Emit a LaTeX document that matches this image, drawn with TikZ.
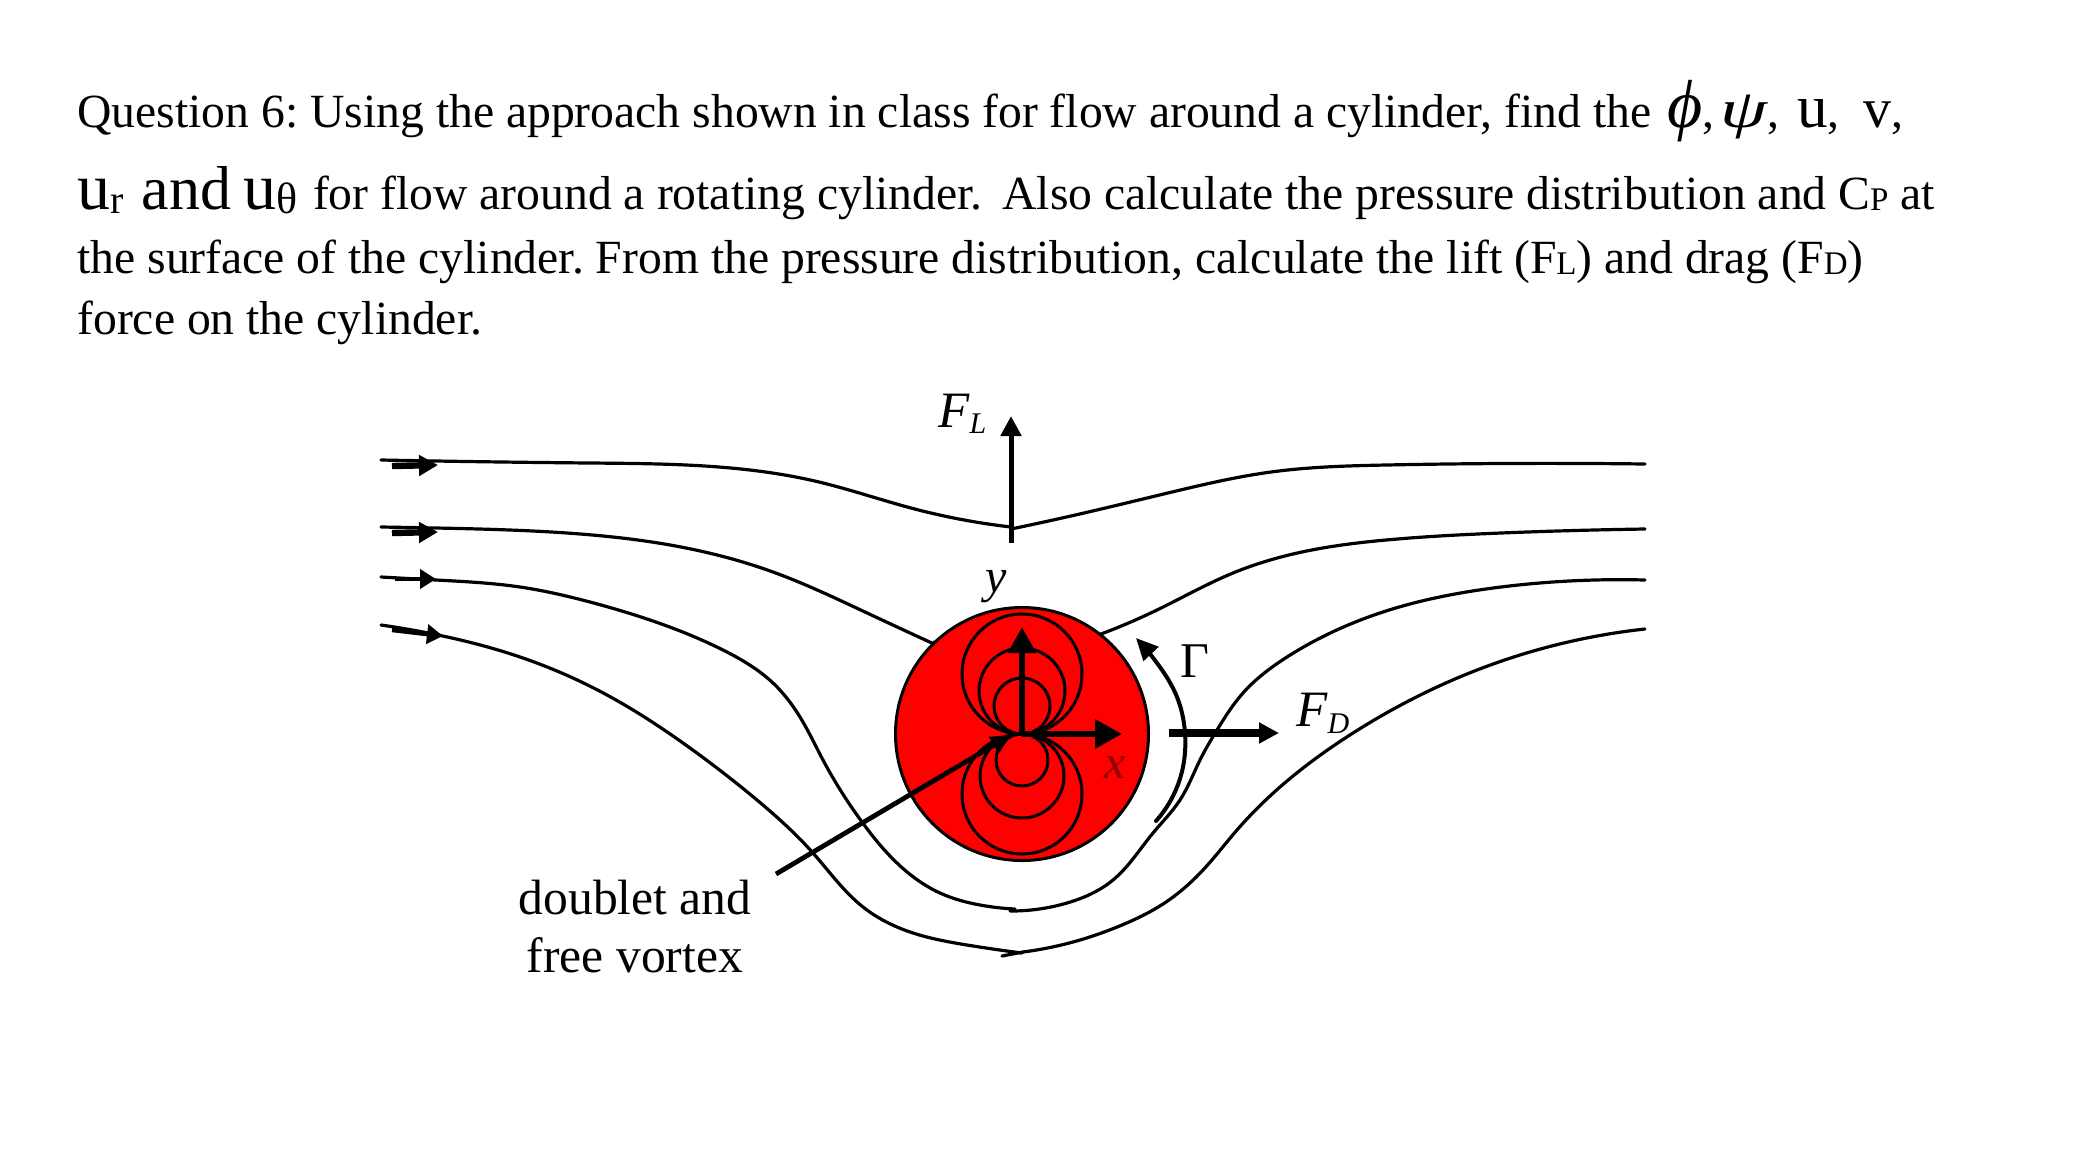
\documentclass[tikz,border=0pt]{standalone}
\usepackage{fontspec}
\setmainfont{Liberation Serif}
\usetikzlibrary{arrows.meta,hobby}
\newcommand{\fsz}[1]{\fontsize{#1}{#1}\selectfont}
\newcommand{\lowsub}[3]{\raisebox{-#1pt}{\fsz{#2}#3}}
\tikzset{
  x=0.5pt,y=-0.5pt,
  body/.style={anchor=base west,inner sep=0pt,font=\fsz{23.82}},
  lab/.style={anchor=base west,inner sep=0pt,font=\fsz{25.5}\itshape},
  stream/.style={line width=1.6pt,line cap=round,line join=round,use Hobby shortcut},
  dipole/.style={line width=1.5pt},
  thickarrow/.style={line width=3.2pt,-{Triangle[length=9.5pt,width=10pt]}},
}
\begin{document}
\frenchspacing
\begin{tikzpicture}
\useasboundingbox[fill=white] (0,0) rectangle (2079,1153);
% question text
\node[body] (l1) at (77,127) {Question 6: Using the approach shown in class for flow around a cylinder, find the};
\node[body] (l1a) at (1667,127) {{\fsz{34}\itshape ϕ},};
\node[body] (l1b) at (1720,127) {\scalebox{1.4}[1]{\fsz{27}\itshape ψ},};
\node[body] (l1c) at (1797,127) {{\fsz{30.5}u},};
\node[body] (l1d) at (1863,127) {{\fsz{28}v},};
\node[body] (l2) at (77,209) {{\fsz{33}u}\lowsub{2}{20}{r}\hspace{3pt} {\fsz{31}and} {\fsz{33}u}\lowsub{2}{22}{θ}\hspace{2pt} for flow around a rotating cylinder.\hspace{4pt} Also calculate the pressure distribution and C\lowsub{0.5}{16.5}{P} at};
\node[body] (l3) at (77,273) {the surface of the cylinder. From the pressure distribution, calculate the lift (F\lowsub{0.5}{16.5}{L}) and drag (F\lowsub{0.5}{16.5}{D})};
\node[body] (l4) at (77,334) {force on the cylinder.};
% stream lines
\draw[stream] (381,460) .. (436,461) .. (590,463) .. (750,470) .. (819,482) .. (911,508) .. (1011,527);
\draw[stream] (1011,529) .. (1084,513) .. (1172,492) .. (1271,472) .. (1386,465) .. (1645,464);
\draw[stream] (381,527) .. (436,528) .. (567,533) .. (681,547) .. (773,572) .. (865,612) .. (934,644);
\draw[stream] (934,642) -- (938,649);
\draw[stream] (1101,634) .. (1157,610) .. (1233,573) .. (1317,549) .. (1386,540) .. (1501,533) .. (1645,529);
\draw[stream] (381,577) .. (436,580) .. (520,587) .. (590,602) .. (650,620) .. (723,650) .. (773,683) .. (800,717) .. (823,760) .. (862,822) .. (897,863) .. (940,893) .. (980,905) .. (1015,909);
\draw[stream] (1010,911) .. (1067,903) .. (1113,880) .. (1153,833) .. (1180,800) .. (1200,760) .. (1217,730) .. (1243,693) .. (1287,657) .. (1386,611) .. (1501,587) .. (1645,580);
\draw[stream] (381,625) .. (438,635) .. (523,658) .. (607,695) .. (690,748) .. (757,800) .. (813,853) .. (863,907) .. (913,933) .. (967,945) .. (1022,953);
\draw[stream] (1002,956) -- (1023,952);
\draw[stream] (1023,952) .. (1080,940) .. (1122,925) .. (1163,904) .. (1203,870) .. (1237,830) .. (1280,787) .. (1353,733) .. (1437,687) .. (1520,655) .. (1645,629);
% inflow arrows
\coordinate (a1s) at (392,466); \coordinate (a1e) at (438,465);
\coordinate (a2s) at (392,533); \coordinate (a2e) at (438,532);
\coordinate (a3s) at (395,579); \coordinate (a3e) at (436,579);
\coordinate (a4s) at (392,630); \coordinate (a4e) at (443,636);
\draw[thickarrow] (a1s) -- (a1e);
\draw[thickarrow] (a2s) -- (a2e);
\draw[line width=2.2pt,-{Triangle[length=8pt,width=9.5pt]}] (a3s) -- (a3e);
\draw[line width=2.2pt,-{Triangle[length=8pt,width=9.5pt]}] (a4s) -- (a4e);
% cylinder
\node[circle,draw=black,fill=red,line width=1.5pt,minimum size=126.5pt,inner sep=0pt] (cyl) at (1022,734) {};
\coordinate (c) at (1022,734);
\foreach \r in {60,43,28}{
  \draw[dipole] (c) ++(0,-\r) circle[radius=\r];
}
\foreach \r in {60,42,26}{
  \draw[dipole] (c) ++(0,\r) circle[radius=\r];
}
% axes
\coordinate (ytip) at (1022,627); \coordinate (xtip) at (1122,734);
\draw[line width=3pt,-{Triangle[length=13pt,width=13.5pt]}] (c) -- (ytip);
\draw[line width=3pt,-{Triangle[length=13.5pt,width=14pt]}] (c) -- (xtip);
% lift
\coordinate (fls) at (1011,543); \coordinate (fle) at (1011,416);
\draw[line width=2.5pt,-{Triangle[length=10pt,width=10pt]}] (fls) -- (fle);
% drag
\coordinate (fds) at (1169,733); \coordinate (fde) at (1279,733);
\draw[line width=3.8pt,-{Triangle[length=10pt,width=10pt]}] (fds) -- (fde);
% circulation
\coordinate (gs) at (1156,821); \coordinate (ge) at (1136,638);
\draw[line width=2pt,line cap=round,use Hobby shortcut,-{Triangle[length=11pt,width=10pt]}] (gs) .. (1183,767) .. (1185,733) .. (1177,697) .. (1157,663) .. (ge);
% doublet pointer
\coordinate (ds) at (776,874); \coordinate (de) at (1011,735);
\draw[line width=2.4pt,-{Triangle[length=10pt,width=9pt]}] (ds) -- (de);
% labels
\node[lab] (fl) at (938,427) {F\raisebox{-3pt}{\fsz{15}L}};
\node[lab,font=\fsz{24}\itshape] (ylab) at (985,592) {y};
\node[lab,font=\fsz{24}\itshape,text=red!55!black] (xlab) at (1104,778) {x};
\node[lab,font=\fsz{25}] (gam) at (1180,677) {Γ};
\node[lab] (fd) at (1296,726) {F\raisebox{-3.5pt}{\fsz{15}D}};
\node[anchor=base,inner sep=0pt,font=\fsz{24.8}] (d1) at (635,914) {doublet and};
\node[anchor=base,inner sep=0pt,font=\fsz{24.8}] (d2) at (635,972) {free vortex};
\end{tikzpicture}
\end{document}
